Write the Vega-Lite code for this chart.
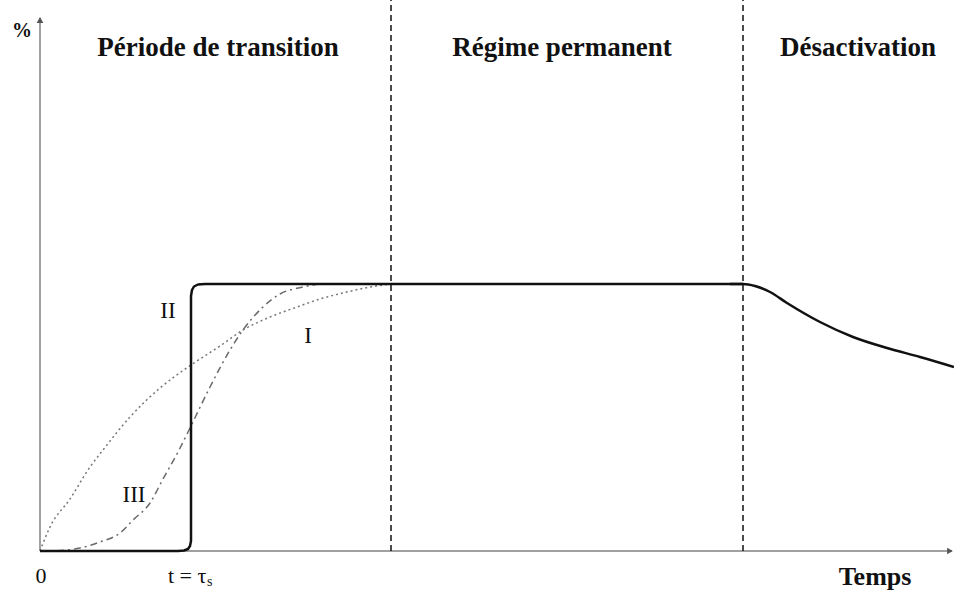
{
  "$schema": "https://vega.github.io/schema/vega-lite/v6.json",
  "width": 914,
  "height": 551,
  "autosize": {"type": "none"},
  "padding": {"left": 40, "top": 0, "right": 0, "bottom": 39},
  "background": "white",
  "config": {"view": {"stroke": null}, "font": "Liberation Serif"},
  "datasets": {
    "curves": [
      {"curve": "II", "i": 1, "t": 0, "v": 0},
      {"curve": "II", "i": 2, "t": 138, "v": 0},
      {"curve": "II", "i": 3, "t": 144, "v": 0.5},
      {"curve": "II", "i": 4, "t": 148, "v": 2},
      {"curve": "II", "i": 5, "t": 150, "v": 5},
      {"curve": "II", "i": 6, "t": 151, "v": 10},
      {"curve": "II", "i": 7, "t": 151, "v": 255},
      {"curve": "II", "i": 8, "t": 152, "v": 261},
      {"curve": "II", "i": 9, "t": 154, "v": 264.5},
      {"curve": "II", "i": 10, "t": 158, "v": 266.5},
      {"curve": "II", "i": 11, "t": 165, "v": 267},
      {"curve": "II", "i": 12, "t": 703, "v": 267},
      {"curve": "IIb", "i": 1, "t": 690, "v": 267},
      {"curve": "IIb", "i": 2, "t": 703, "v": 267},
      {"curve": "IIb", "i": 3, "t": 715, "v": 265},
      {"curve": "IIb", "i": 4, "t": 730, "v": 259},
      {"curve": "IIb", "i": 5, "t": 747, "v": 248},
      {"curve": "IIb", "i": 6, "t": 780, "v": 229},
      {"curve": "IIb", "i": 7, "t": 813, "v": 214},
      {"curve": "IIb", "i": 8, "t": 847, "v": 203},
      {"curve": "IIb", "i": 9, "t": 880, "v": 194},
      {"curve": "IIb", "i": 10, "t": 914, "v": 184},
      {"curve": "I", "i": 1, "t": 0, "v": 0},
      {"curve": "I", "i": 2, "t": 10, "v": 24},
      {"curve": "I", "i": 3, "t": 30, "v": 52},
      {"curve": "I", "i": 4, "t": 50, "v": 84},
      {"curve": "I", "i": 5, "t": 63, "v": 101},
      {"curve": "I", "i": 6, "t": 90, "v": 134},
      {"curve": "I", "i": 7, "t": 120, "v": 163},
      {"curve": "I", "i": 8, "t": 151, "v": 186},
      {"curve": "I", "i": 9, "t": 180, "v": 205},
      {"curve": "I", "i": 10, "t": 203, "v": 221},
      {"curve": "I", "i": 11, "t": 230, "v": 234},
      {"curve": "I", "i": 12, "t": 257, "v": 244},
      {"curve": "I", "i": 13, "t": 280, "v": 252},
      {"curve": "I", "i": 14, "t": 307, "v": 259},
      {"curve": "I", "i": 15, "t": 330, "v": 264},
      {"curve": "I", "i": 16, "t": 351, "v": 267},
      {"curve": "III", "i": 1, "t": 0, "v": 0},
      {"curve": "III", "i": 2, "t": 20, "v": 0.5},
      {"curve": "III", "i": 3, "t": 40, "v": 3},
      {"curve": "III", "i": 4, "t": 60, "v": 9},
      {"curve": "III", "i": 5, "t": 80, "v": 18},
      {"curve": "III", "i": 6, "t": 93, "v": 31},
      {"curve": "III", "i": 7, "t": 110, "v": 48},
      {"curve": "III", "i": 8, "t": 123, "v": 72},
      {"curve": "III", "i": 9, "t": 138, "v": 99},
      {"curve": "III", "i": 10, "t": 150, "v": 123},
      {"curve": "III", "i": 11, "t": 170, "v": 164},
      {"curve": "III", "i": 12, "t": 190, "v": 201},
      {"curve": "III", "i": 13, "t": 203, "v": 221},
      {"curve": "III", "i": 14, "t": 223, "v": 244},
      {"curve": "III", "i": 15, "t": 240, "v": 257},
      {"curve": "III", "i": 16, "t": 263, "v": 264},
      {"curve": "III", "i": 17, "t": 280, "v": 267}
    ],
    "axes": [
      {"t": 0, "v": 0, "t2": 912, "v2": 0},
      {"t": 0, "v": 0, "t2": 0, "v2": 533}
    ],
    "dividers": [
      {"t": 351, "v": 0, "v2": 551},
      {"t": 703, "v": 0, "v2": 551}
    ],
    "arrows": [
      {"t": 0, "v": 531, "shape": "triangle-up"},
      {"t": 910, "v": 0, "shape": "triangle-right"}
    ],
    "titles": [
      {"t": 178, "v": 495, "label": "Période de transition"},
      {"t": 522, "v": 495, "label": "Régime permanent"},
      {"t": 818, "v": 495, "label": "Désactivation"}
    ],
    "numerals": [
      {"t": 128, "v": 233, "label": "II"},
      {"t": 268, "v": 208, "label": "I"},
      {"t": 94, "v": 49, "label": "III"}
    ],
    "ticks": [
      {"t": 1, "v": -32, "label": "0", "align": "center"},
      {"t": 128, "v": -32, "label": "t = τ", "align": "left"}
    ],
    "subs": [
      {"t": 167, "v": -35, "label": "s"}
    ],
    "bold": [
      {"t": -18, "v": 514, "label": "%", "size": 20},
      {"t": 835, "v": -34, "label": "Temps", "size": 26}
    ]
  },
  "layer": [
    {
      "data": {"name": "axes"},
      "mark": {"type": "rule", "color": "#808080", "strokeWidth": 1.5},
      "encoding": {
        "x": {"field": "t", "type": "quantitative", "scale": {"domain": [0, 914], "nice": false, "zero": false}, "axis": null},
        "y": {"field": "v", "type": "quantitative", "scale": {"domain": [0, 551], "nice": false, "zero": false}, "axis": null},
        "x2": {"field": "t2"},
        "y2": {"field": "v2"}
      }
    },
    {
      "data": {"name": "arrows"},
      "mark": {"type": "point", "filled": true, "color": "#555555", "size": 45, "opacity": 1},
      "encoding": {
        "x": {"field": "t", "type": "quantitative"},
        "y": {"field": "v", "type": "quantitative"},
        "shape": {"field": "shape", "type": "nominal", "scale": null, "legend": null}
      }
    },
    {
      "data": {"name": "dividers"},
      "mark": {"type": "rule", "color": "#111111", "strokeWidth": 1.5, "strokeDash": [6, 4]},
      "encoding": {
        "x": {"field": "t", "type": "quantitative"},
        "y": {"field": "v", "type": "quantitative"},
        "y2": {"field": "v2"}
      }
    },
    {
      "data": {"name": "curves"},
      "transform": [{"filter": "datum.curve === 'I'"}],
      "mark": {"type": "line", "color": "#777777", "strokeWidth": 1.5, "strokeDash": [2, 3], "interpolate": "monotone"},
      "encoding": {
        "x": {"field": "t", "type": "quantitative"},
        "y": {"field": "v", "type": "quantitative"},
        "order": {"field": "i", "type": "quantitative"}
      }
    },
    {
      "data": {"name": "curves"},
      "transform": [{"filter": "datum.curve === 'III'"}],
      "mark": {"type": "line", "color": "#6a6a6a", "strokeWidth": 1.5, "strokeDash": [7, 4, 2, 4], "interpolate": "monotone"},
      "encoding": {
        "x": {"field": "t", "type": "quantitative"},
        "y": {"field": "v", "type": "quantitative"},
        "order": {"field": "i", "type": "quantitative"}
      }
    },
    {
      "data": {"name": "curves"},
      "transform": [{"filter": "datum.curve === 'II'"}],
      "mark": {"type": "line", "color": "#111111", "strokeWidth": 2.5, "interpolate": "linear", "strokeJoin": "round"},
      "encoding": {
        "x": {"field": "t", "type": "quantitative"},
        "y": {"field": "v", "type": "quantitative"},
        "order": {"field": "i", "type": "quantitative"}
      }
    },
    {
      "data": {"name": "curves"},
      "transform": [{"filter": "datum.curve === 'IIb'"}],
      "mark": {"type": "line", "color": "#111111", "strokeWidth": 2.5, "interpolate": "monotone", "strokeJoin": "round"},
      "encoding": {
        "x": {"field": "t", "type": "quantitative"},
        "y": {"field": "v", "type": "quantitative"},
        "order": {"field": "i", "type": "quantitative"}
      }
    },
    {
      "data": {"name": "titles"},
      "mark": {"type": "text", "font": "Liberation Serif", "fontWeight": "bold", "fontSize": 27, "align": "center", "baseline": "alphabetic", "color": "#111111"},
      "encoding": {
        "x": {"field": "t", "type": "quantitative"},
        "y": {"field": "v", "type": "quantitative"},
        "text": {"field": "label", "type": "nominal"}
      }
    },
    {
      "data": {"name": "numerals"},
      "mark": {"type": "text", "font": "Liberation Serif", "fontSize": 23, "align": "center", "baseline": "alphabetic", "color": "#111111"},
      "encoding": {
        "x": {"field": "t", "type": "quantitative"},
        "y": {"field": "v", "type": "quantitative"},
        "text": {"field": "label", "type": "nominal"}
      }
    },
    {
      "data": {"name": "ticks"},
      "transform": [{"filter": "datum.align === 'center'"}],
      "mark": {"type": "text", "font": "Liberation Serif", "fontSize": 22, "align": "center", "baseline": "alphabetic", "color": "#111111"},
      "encoding": {
        "x": {"field": "t", "type": "quantitative"},
        "y": {"field": "v", "type": "quantitative"},
        "text": {"field": "label", "type": "nominal"}
      }
    },
    {
      "data": {"name": "ticks"},
      "transform": [{"filter": "datum.align === 'left'"}],
      "mark": {"type": "text", "font": "Liberation Serif", "fontSize": 22, "align": "left", "baseline": "alphabetic", "color": "#111111"},
      "encoding": {
        "x": {"field": "t", "type": "quantitative"},
        "y": {"field": "v", "type": "quantitative"},
        "text": {"field": "label", "type": "nominal"}
      }
    },
    {
      "data": {"name": "subs"},
      "mark": {"type": "text", "font": "Liberation Serif", "fontSize": 14, "align": "left", "baseline": "alphabetic", "color": "#111111"},
      "encoding": {
        "x": {"field": "t", "type": "quantitative"},
        "y": {"field": "v", "type": "quantitative"},
        "text": {"field": "label", "type": "nominal"}
      }
    },
    {
      "data": {"name": "bold"},
      "mark": {"type": "text", "font": "Liberation Serif", "fontWeight": "bold", "align": "center", "baseline": "alphabetic", "color": "#111111"},
      "encoding": {
        "x": {"field": "t", "type": "quantitative"},
        "y": {"field": "v", "type": "quantitative"},
        "text": {"field": "label", "type": "nominal"},
        "size": {"field": "size", "type": "quantitative", "scale": null, "legend": null}
      }
    }
  ]
}
